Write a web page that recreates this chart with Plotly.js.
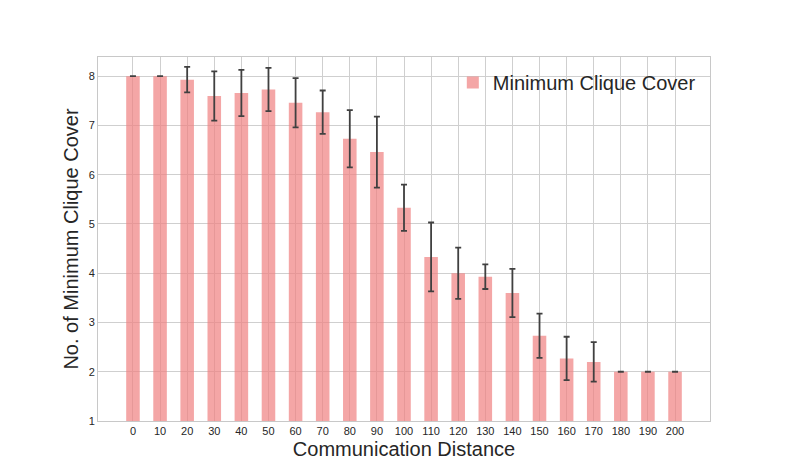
<!DOCTYPE html>
<html>
<head>
<meta charset="utf-8">
<script src="https://cdn.plot.ly/plotly-3.0.1.min.js"></script>
<style>
  html, body { margin: 0; padding: 0; background: #fff; }
  #plot { width: 789px; height: 473px; }
</style>
</head>
<body>
<div id="plot"></div>
<script>
const distances = ['0', '10', '20', '30', '40', '50', '60', '70', '80', '90', '100',
    '110', '120', '130', '140', '150', '160', '170', '180', '190', '200'];

const cliqueCover = [8.0, 8.0, 7.93, 7.6, 7.66, 7.73, 7.46, 7.27, 6.73, 6.46, 5.33,
    4.33, 4.0, 3.93, 3.6, 2.73, 2.27, 2.2, 2.0, 2.0, 2.0];

const cliqueStd = [0, 0, 0.26, 0.5, 0.47, 0.44, 0.5, 0.44, 0.58, 0.72, 0.47,
    0.7, 0.52, 0.25, 0.49, 0.45, 0.44, 0.4, 0, 0, 0];

const yTicks = [1, 2, 3, 4, 5, 6, 7, 8];

const data = [
    {
        x: distances,
        y: cliqueCover,
        name: 'Minimum Clique Cover',
        type: 'bar',
        width: 0.5,
        marker: {
            color: 'rgba(240,128,128,0.7)',
            line: {width: 0}
        },
        error_y: {
            type: 'data',
            array: cliqueStd,
            visible: true,
            color: '#404040',
            thickness: 1.8,
            width: 3
        }
    }
];

const layout = {
    width: 789,
    height: 473,
    margin: {l: 98, r: 79, t: 57, b: 52},
    paper_bgcolor: '#ffffff',
    plot_bgcolor: '#ffffff',
    font: {family: 'Liberation Sans, Arial, sans-serif', color: '#262626'},
    showlegend: true,
    legend: {
        x: 0.985,
        xanchor: 'right',
        y: 0.93,
        yanchor: 'middle',
        bgcolor: 'rgba(0,0,0,0)',
        font: {size: 20, color: '#262626'}
    },
    xaxis: {
        type: 'category',
        range: [-1.29, 21.29],
        showgrid: true,
        gridcolor: '#cfcfcf',
        gridwidth: 1,
        ticks: '',
        tickfont: {size: 11},
        showline: true,
        linecolor: '#c8c8c8',
        mirror: true,
        zeroline: false,
        title: {text: 'Communication Distance', font: {size: 20}, standoff: 5}
    },
    yaxis: {
        range: [1, 8.39],
        tickvals: yTicks,
        ticktext: yTicks.map(String),
        showgrid: true,
        gridcolor: '#cfcfcf',
        gridwidth: 1,
        ticks: '',
        tickfont: {size: 11},
        showline: true,
        linecolor: '#c8c8c8',
        mirror: true,
        zeroline: false,
        title: {text: 'No. of Minimum Clique Cover', font: {size: 20}, standoff: 4}
    }
};

Plotly.newPlot('plot', data, layout, {displayModeBar: false});
</script>
</body>
</html>
